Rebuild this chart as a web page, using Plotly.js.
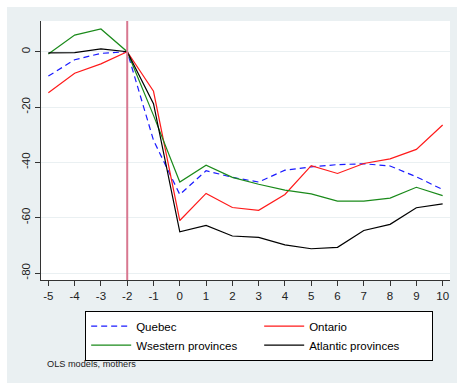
<!DOCTYPE html>
<html>
<head>
<meta charset="utf-8">
<script src="https://cdn.plot.ly/plotly-3.0.1.min.js"></script>
<style>
  html, body { margin: 0; padding: 0; background: #ffffff; width: 457px; height: 383px; overflow: hidden; }
  #chart { position: absolute; left: 7px; top: 7px; width: 450px; height: 376px; }
</style>
</head>
<body>
<div id="chart"></div>
<script>
const years = [-5, -4, -3, -2, -1, 0, 1, 2, 3, 4, 5, 6, 7, 8, 9, 10];
const quebec   = [-8.8, -2.9, -0.6, 0, -32, -51.6, -43, -45.4, -47.1, -42.8, -41.6, -40.8, -40.5, -41.3, -45.2, -49.8];
const ontario  = [-14.8, -7.8, -4.4, 0, -14.3, -61, -51.2, -56.3, -57.3, -51.6, -41.2, -44, -40.4, -38.7, -35.3, -26.5];
const western  = [-0.8, 6, 8.2, 0, -23, -47.1, -41, -45.4, -47.9, -50, -51.4, -54, -54, -52.9, -49, -52];
const atlantic = [-0.4, -0.3, 1, 0, -18.8, -65.1, -62.8, -66.6, -67.1, -69.8, -71.2, -70.7, -64.6, -62.4, -56.4, -55];
const seriesNames = ['Quebec', 'Ontario', 'Wsestern provinces', 'Atlantic provinces'];
const xTicks = [-5, -4, -3, -2, -1, 0, 1, 2, 3, 4, 5, 6, 7, 8, 9, 10];
const yTicks = [0, -20, -40, -60, -80];
const eventYear = -2;
const noteText = 'OLS models, mothers';

const FONT = 'Liberation Sans, Arial, Helvetica, sans-serif';
const BG = '#eaf0f2';

const traces = [
  {x: years, y: quebec, name: seriesNames[0], mode: 'lines', line: {color: '#1a1aff', width: 1.2, dash: '6px,4px'}},
  {x: years, y: ontario, name: seriesNames[1], mode: 'lines', line: {color: '#ff1a1a', width: 1.2}},
  {x: years, y: western, name: seriesNames[2], mode: 'lines', line: {color: '#1a8a1a', width: 1.2}},
  {x: years, y: atlantic, name: seriesNames[3], mode: 'lines', line: {color: '#000000', width: 1.2}}
];

const layout = {
  width: 450, height: 376,
  margin: {l: 34, r: 7, t: 14, b: 103, autoexpand: false},
  paper_bgcolor: BG,
  plot_bgcolor: '#ffffff',
  font: {family: FONT, size: 12, color: '#000000'},
  showlegend: true,
  xaxis: {
    range: [-5.28, 10.28],
    tickmode: 'array', tickvals: xTicks, ticktext: xTicks.map(String),
    ticks: 'outside', ticklen: 5, tickcolor: '#333', tickwidth: 1,
    showline: true, linecolor: '#333', linewidth: 1,
    showgrid: false, zeroline: false,
    tickfont: {family: FONT, size: 11.5, color: '#222'},
    fixedrange: true
  },
  yaxis: {
    range: [-82.5, 11.1],
    tickmode: 'array', tickvals: yTicks, ticktext: yTicks.map(String),
    tickangle: -90,
    ticks: 'outside', ticklen: 5, tickcolor: '#333', tickwidth: 1,
    showline: true, linecolor: '#333', linewidth: 1,
    showgrid: true, gridcolor: BG, gridwidth: 1,
    zeroline: false,
    tickfont: {family: FONT, size: 11.5, color: '#222'},
    fixedrange: true
  },
  shapes: [{
    type: 'line', xref: 'x', yref: 'paper',
    x0: eventYear, x1: eventYear, y0: 0, y1: 1,
    line: {color: '#d87890', width: 2}
  }],
  legend: {
    orientation: 'h',
    x: 0.108, xanchor: 'left',
    y: -0.118, yanchor: 'top',
    bgcolor: '#ffffff', bordercolor: '#000000', borderwidth: 1,
    entrywidth: 118, entrywidthmode: 'pixels',
    font: {family: FONT, size: 11.5, color: '#000'},
    tracegroupgap: 0,
    itemwidth: 40
  },
  annotations: [{
    text: noteText, xref: 'paper', yref: 'paper',
    x: 0.0098, y: -0.324, xanchor: 'left', yanchor: 'middle',
    showarrow: false, font: {family: FONT, size: 9.2, color: '#222'}
  }]
};

Plotly.newPlot('chart', traces, layout, {staticPlot: true, displayModeBar: false});
</script>
</body>
</html>
